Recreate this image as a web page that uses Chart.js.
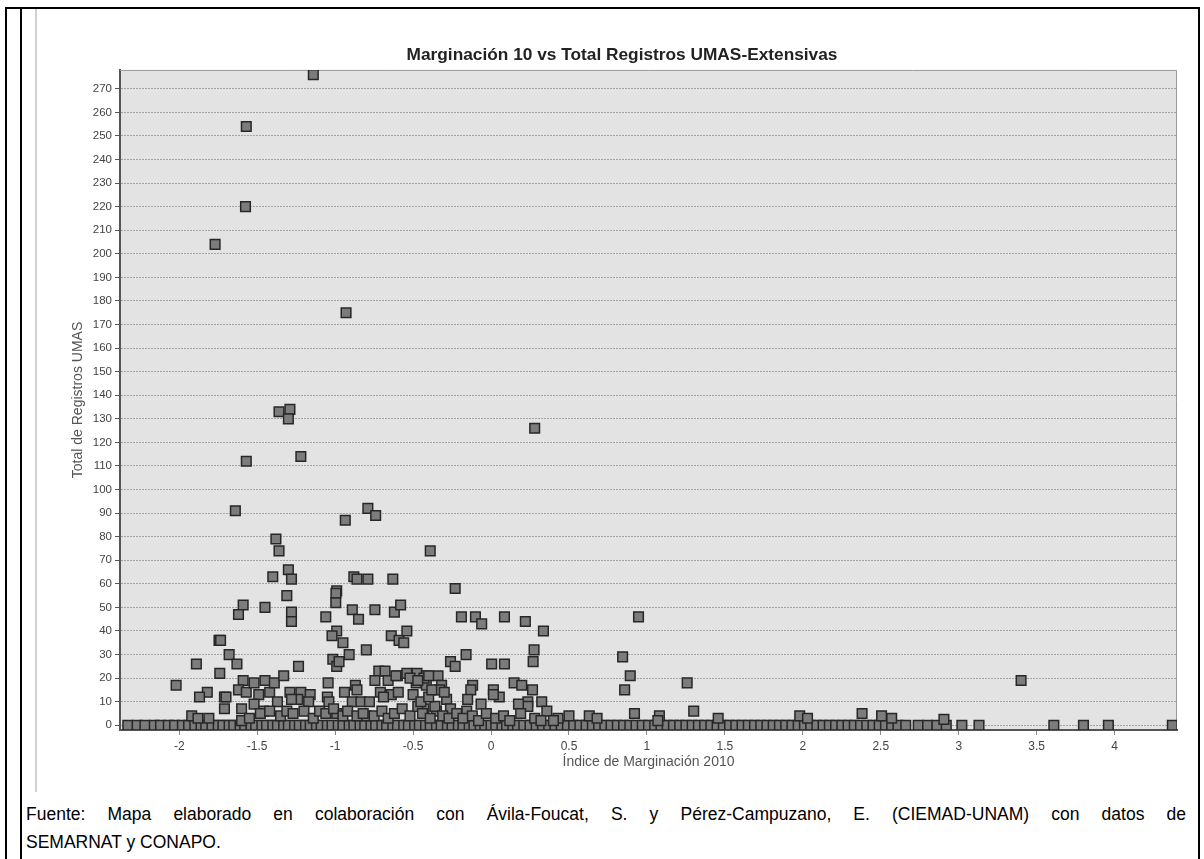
<!DOCTYPE html>
<html>
<head>
<meta charset="utf-8">
<script src="https://cdn.jsdelivr.net/npm/chart.js@4"></script>
<style>
  body { margin: 0; background: #fff; width: 1204px; height: 859px; overflow: hidden; position: relative;
         font-family: "Liberation Sans", Arial, sans-serif; }
  #frame { position: absolute; left: 5px; top: 7px; width: 1191px; height: 880px; border: 2px solid #000; border-bottom: none; }
  #inner { position: absolute; left: 20px; top: 9px; width: 2px; height: 860px; background: #000; }
  #edge { position: absolute; left: 35px; top: 9px; width: 2px; height: 783px; background: #d0d0d0; }
  #box { position: absolute; left: 37px; top: 36px; width: 1160px; height: 760px; }
  #note { position: absolute; left: 26px; top: 800px; width: 1160px; font-size: 17.5px; line-height: 28px; color: #000; }
  #note .l1 { text-align: justify; text-align-last: justify; white-space: nowrap; }
</style>
</head>
<body>
<div id="frame"></div>
<div id="inner"></div>
<div id="edge"></div>
<div id="box"><canvas id="chart"></canvas></div>
<div id="note">
  <div class="l1">Fuente: Mapa elaborado en colaboración con Ávila-Foucat, S. y Pérez-Campuzano, E. (CIEMAD-UNAM) con datos de</div>
  <div>SEMARNAT y CONAPO.</div>
</div>
<script>
// --- Data ---
// municipalities with at least one UMA: marginalization index and number of registers
const marginIndex = [
  -1.14, -1.57, -1.575, -1.77, -0.93, -1.36, -1.29, -1.30, -1.22, -1.57, 0.28, -1.64,
  -1.38, -1.36, -1.40, -1.30, -1.28, -1.31, -0.935, -0.79, -0.74, -0.88, -0.86, -0.79,
  -0.63, -0.99, -0.995, -0.39, -0.23, -1.59, -1.62, -1.45, -1.28, -1.28, -0.996, -1.06,
  -0.89, -0.85, -0.745, -0.62, -0.58, -0.99, -1.02, -0.95, -0.91, -0.80, -0.64, -0.59,
  -0.56, -0.54, -1.745, -1.735, -1.68, -1.63, -1.89, -1.74, -1.235, -1.015, -0.99, -0.975,
  -2.02, -1.82, -1.87, -1.71, -1.70, -1.71, -1.59, -1.62, -1.57, -1.52, -1.45, -1.49,
  -1.42, -1.39, -1.33, -1.37, -1.29, -1.22, -1.16, -1.17, -1.24, -1.28, -1.46, -1.52,
  -1.60, -1.60, -1.92, -1.88, -1.81, -1.045, -1.05, -1.04, -0.99, -0.94, -0.87, -0.86,
  -0.89, -0.835, -0.78, -0.71, -0.72, -0.68, -0.745, -0.66, -0.60, -0.64, -0.69, -0.80,
  -0.16, -0.26, -0.23, 0.004, 0.086, 0.276, 0.27, 0.844, 0.893, 0.857, 0.92, -0.19,
  -0.10, -0.06, 0.086, 0.22, 0.336, 0.946, -0.61, -0.54, -0.475, -0.415, -0.34, -0.595,
  -0.50, -0.415, -0.317, -0.33, -0.285, -0.118, -0.13, 0.015, 0.053, 0.015, 0.148, 0.197,
  0.266, 0.325, 0.236, 0.236, 0.176, 0.358, -0.064, -0.15, -0.156, -0.26, -0.35, -0.43,
  0.50, 0.63, 0.68, 1.08, 0.43, 1.07, 1.258, 1.30, 1.457, 1.98, 2.03, 2.38,
  2.505, 2.57, 2.905, 3.40, -1.55, -1.48, -1.42, -1.35, -1.31, -1.27, -1.20, -1.14,
  -1.10, -1.06, -1.01, -0.95, -0.92, -0.86, -0.82, -0.75, -0.70, -0.66, -0.62, -0.57,
  -0.52, -0.47, -0.44, -0.39, -0.36, -0.31, -0.27, -0.22, -0.18, -0.12, -0.08, -0.03,
  0.03, 0.08, 0.12, 0.19, 0.28, 0.32, 0.40, -0.45, -0.40, -0.38, -0.30, -0.48,
  -0.52, -0.43, -0.40, -0.47
];
const umaCount = [
  276, 254, 220, 204, 175, 133, 134, 130, 114, 112, 126, 91,
  79, 74, 63, 66, 62, 55, 87, 92, 89, 63, 62, 62,
  62, 57, 56, 74, 58, 51, 47, 50, 48, 44, 52, 46,
  49, 45, 49, 48, 51, 40, 38, 35, 30, 32, 38, 36,
  35, 40, 36, 36, 30, 26, 26, 22, 25, 28, 25, 27,
  17, 14, 12, 12, 12, 7, 19, 15, 14, 18, 19, 13,
  14, 18, 21, 10, 14, 14, 13, 10, 11, 11, 6, 9,
  7, 2, 4, 3, 3, 18, 12, 10, 5, 14, 17, 15,
  10, 10, 10, 14, 23, 23, 19, 19, 21, 13, 12, 4,
  30, 27, 25, 26, 26, 32, 27, 29, 21, 15, 5, 46,
  46, 43, 46, 44, 40, 46, 21, 22, 22, 21, 21, 14,
  13, 17, 17, 15, 11, 17, 15, 15, 12, 13, 18, 17,
  15, 10, 10, 8, 9, 6, 9, 11, 6, 7, 6, 7,
  4, 4, 3, 4, 3, 2, 18, 6, 3, 4, 3, 5,
  4, 3, 2.5, 19, 3, 5, 6, 4, 6, 5, 6, 3,
  6, 5, 7, 4, 6, 4, 5, 4, 6, 3, 5, 7,
  4, 8, 5, 3, 8, 4, 3, 5, 3, 4, 2, 5,
  3, 4, 2, 5, 3, 2, 2, 10, 12, 15, 14, 18,
  20, 20, 21, 19
];
// municipalities with no UMA registered (value 0)
const zeroIndex = [
  -2.33, -2.27, -2.22, -2.16, -2.12, -2.07, -2.03, -1.98, -1.94, -1.90, -1.86, -1.83,
  -1.79, -1.75, -1.72, -1.68, -1.65, -1.61, -1.58, -1.54, -1.51, -1.47, -1.44, -1.40,
  -1.37, -1.33, -1.30, -1.26, -1.23, -1.19, -1.16, -1.12, -1.09, -1.05, -1.02, -0.98,
  -0.95, -0.91, -0.88, -0.84, -0.81, -0.77, -0.74, -0.70, -0.67, -0.63, -0.60, -0.56,
  -0.53, -0.49, -0.46, -0.42, -0.39, -0.35, -0.32, -0.28, -0.25, -0.21, -0.18, -0.14,
  -0.11, -0.07, -0.04, 0.00, 0.03, 0.07, 0.10, 0.14, 0.17, 0.21, 0.25, 0.29,
  0.33, 0.37, 0.41, 0.45, 0.49, 0.53, 0.57, 0.61, 0.65, 0.69, 0.73, 0.77,
  0.81, 0.85, 0.89, 0.93, 0.97, 1.01, 1.05, 1.09, 1.13, 1.17, 1.21, 1.25,
  1.29, 1.33, 1.37, 1.41, 1.45, 1.49, 1.53, 1.57, 1.61, 1.65, 1.69, 1.73,
  1.77, 1.81, 1.85, 1.89, 1.93, 1.97, 2.01, 2.05, 2.09, 2.13, 2.17, 2.21,
  2.25, 2.29, 2.33, 2.37, 2.41, 2.45, 2.49, 2.53, 2.57, 2.61, 2.66, 2.74,
  2.80, 2.86, 2.92, 3.02, 3.13, 3.61, 3.80, 3.96, 4.37
];
const xTicks = [-2, -1.5, -1, -0.5, 0, 0.5, 1, 1.5, 2, 2.5, 3, 3.5, 4];
const yTicks = [0, 10, 20, 30, 40, 50, 60, 70, 80, 90, 100, 110, 120, 130, 140,
  150, 160, 170, 180, 190, 200, 210, 220, 230, 240, 250, 260, 270];

const FONT = '"Liberation Sans", Arial, sans-serif';

// grey plot area plus thin frame on top and right
const plotBox = {
  id: 'plotBox',
  beforeDraw(c) {
    const { ctx, chartArea: a } = c;
    ctx.save();
    ctx.fillStyle = '#e3e3e3';
    ctx.fillRect(a.left, a.top, a.width, a.height);
    ctx.restore();
  },
  beforeDatasetsDraw(c) {
    const { ctx, chartArea: a } = c;
    ctx.save();
    ctx.strokeStyle = '#9a9a9a';
    ctx.lineWidth = 1;
    ctx.beginPath();
    ctx.moveTo(a.left, a.top + 0.5);
    ctx.lineTo(a.right - 0.5, a.top + 0.5);
    ctx.lineTo(a.right - 0.5, a.bottom);
    ctx.stroke();
    ctx.restore();
  }
};

const pointStyle = {
  pointStyle: 'rect',
  pointRadius: 6.8,
  pointHoverRadius: 6.8,
  pointBorderWidth: 1.5,
  pointBackgroundColor: '#7c7c7c',
  pointBorderColor: '#272727',
  showLine: false
};

const ctx = document.getElementById('chart').getContext('2d');
const chart = new Chart(ctx, {
  type: 'scatter',
  data: {
    datasets: [
      Object.assign({ label: 'UMAS', data: marginIndex.map((x, i) => ({ x: x, y: umaCount[i] })) }, pointStyle),
      Object.assign({ label: 'Sin UMAS', data: zeroIndex.map(x => ({ x: x, y: 0 })) }, pointStyle)
    ]
  },
  options: {
    responsive: true,
    maintainAspectRatio: false,
    animation: false,
    events: [],
    layout: { padding: { left: 30, right: 20, top: 0, bottom: 0 } },
    plugins: {
      legend: { display: false },
      tooltip: { enabled: false },
      title: {
        display: true,
        text: 'Marginación 10 vs Total Registros UMAS-Extensivas',
        color: '#222',
        font: { family: FONT, size: 17.3, weight: 'bold' },
        padding: { top: 9, bottom: 4.2 }
      }
    },
    scales: {
      x: {
        type: 'linear',
        min: -2.38,
        max: 4.40,
        afterBuildTicks: s => { s.ticks = xTicks.map(v => ({ value: v })); },
        afterFit: s => { s.height = 66; },
        ticks: {
          color: '#444',
          font: { family: FONT, size: 12 },
          padding: 4,
          maxRotation: 0,
          autoSkip: false,
          callback: v => String(v)
        },
        grid: { drawOnChartArea: false, drawTicks: true, tickLength: 5, tickColor: '#8a8a8a', tickBorderDash: [] },
        border: { color: '#555', width: 2 },
        title: {
          display: true,
          text: 'Índice de Marginación 2010',
          color: '#555',
          font: { family: FONT, size: 14 },
          padding: { top: 0, bottom: 25 }
        }
      },
      y: {
        type: 'linear',
        min: -2,
        max: 278,
        afterBuildTicks: s => { s.ticks = yTicks.map(v => ({ value: v })); },
        afterFit: s => { s.width = 53; },
        ticks: {
          color: '#444',
          font: { family: FONT, size: 11.5 },
          padding: 3,
          autoSkip: false
        },
        grid: { color: '#a4a4a4', lineWidth: 1, tickLength: 5, tickColor: '#555', tickBorderDash: [] },
        border: { color: '#555', width: 2, dash: [2, 1] },
        title: {
          display: true,
          text: 'Total de Registros UMAS',
          color: '#555',
          font: { family: FONT, size: 14 },
          padding: { top: 3, bottom: 0 }
        }
      }
    }
  },
  plugins: [plotBox]
});
</script>
</body>
</html>
